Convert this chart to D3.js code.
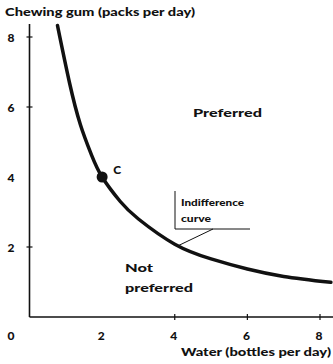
<!DOCTYPE html>
<html>
<head>
<meta charset="utf-8">
<script src="https://cdn.jsdelivr.net/npm/d3@7"></script>
<style>
  html, body { margin: 0; padding: 0; background: #fff; }
  text { font-family: Lato, "Open Sans", sans-serif; font-weight: 900; fill: #111; }
</style>
</head>
<body>
<svg id="chart" width="333" height="364"></svg>
<script>
// Indifference curve: water (bottles/day) vs chewing gum (packs/day)
const curveX = [0.77, 1.1, 1.4, 1.7, 2.0, 2.5, 3.0, 4.0, 5.0, 6.0, 7.0, 8.3];
const curveY = [8.33, 6.7, 5.5, 4.65, 4.0, 3.3, 2.8, 2.08, 1.66, 1.37, 1.16, 0.99];
const pointC = { x: 2, y: 4, label: "C" };
const xTickLabels = [0, 2, 4, 6, 8];
const yTickLabels = [2, 4, 6, 8];
const xTickMarks = [4, 6, 8];
const yTickMarks = [2, 6, 8];

const svg = d3.select("#chart");
const x = d3.scaleLinear().domain([0, 8]).range([29.5, 320]);
const y = d3.scaleLinear().domain([0, 8]).range([317, 37]);

// axes
svg.append("line").attr("x1", x(0)).attr("x2", 333).attr("y1", y(0)).attr("y2", y(0))
  .attr("stroke", "#111").attr("stroke-width", 1.6);
svg.append("line").attr("x1", x(0)).attr("x2", x(0)).attr("y1", y(0)).attr("y2", 24)
  .attr("stroke", "#111").attr("stroke-width", 1.6);

svg.selectAll(".xt").data(xTickMarks).join("line")
  .attr("x1", d => x(d)).attr("x2", d => x(d))
  .attr("y1", y(0) - 3).attr("y2", y(0) + 3)
  .attr("stroke", "#111").attr("stroke-width", 1.2);
svg.selectAll(".yt").data(yTickMarks).join("line")
  .attr("x1", x(0) - 3).attr("x2", x(0) + 3)
  .attr("y1", d => y(d)).attr("y2", d => y(d))
  .attr("stroke", "#111").attr("stroke-width", 1.2);

svg.selectAll(".xl").data(xTickLabels).join("text")
  .attr("x", d => d === 0 ? 11 : x(d) - 1)
  .attr("y", 340).attr("text-anchor", "middle")
  .attr("font-size", 12).text(d => d);
svg.selectAll(".yl").data(yTickLabels).join("text")
  .attr("x", 11).attr("y", d => y(d) + 4.5).attr("text-anchor", "middle")
  .attr("font-size", 12).text(d => d);

// axis titles
svg.append("text").attr("x", 5).attr("y", 16).attr("font-size", 12)
  .attr("textLength", 190).attr("lengthAdjust", "spacingAndGlyphs")
  .text("Chewing gum (packs per day)");
svg.append("text").attr("x", 181).attr("y", 356).attr("font-size", 12)
  .attr("textLength", 150).attr("lengthAdjust", "spacingAndGlyphs")
  .text("Water (bottles per day)");

// region labels
svg.append("text").attr("x", 193).attr("y", 117).attr("font-size", 12)
  .attr("textLength", 69).attr("lengthAdjust", "spacingAndGlyphs").text("Preferred");
svg.append("text").attr("x", 125).attr("y", 272).attr("font-size", 12)
  .attr("textLength", 28).attr("lengthAdjust", "spacingAndGlyphs").text("Not");
svg.append("text").attr("x", 125).attr("y", 292).attr("font-size", 12)
  .attr("textLength", 68).attr("lengthAdjust", "spacingAndGlyphs").text("preferred");

// the curve
const pts = curveX.map((v, i) => [v, curveY[i]]);
svg.append("path")
  .attr("d", d3.line().x(d => x(d[0])).y(d => y(d[1])).curve(d3.curveNatural)(pts))
  .attr("fill", "none").attr("stroke", "#111").attr("stroke-width", 3.5)
  .attr("stroke-linecap", "round");

// point C
svg.append("circle").attr("cx", x(pointC.x)).attr("cy", y(pointC.y)).attr("r", 5.5).attr("fill", "#111");
svg.append("text").attr("x", x(pointC.x) + 11).attr("y", y(pointC.y) - 3)
  .attr("font-size", 12).text(pointC.label);

// callout for the curve
svg.append("path")
  .attr("d", "M175,191 V229 H250")
  .attr("fill", "none").attr("stroke", "#111").attr("stroke-width", 1);
svg.append("line").attr("x1", 213).attr("y1", 229).attr("x2", x(4.1)).attr("y2", y(2.04))
  .attr("stroke", "#111").attr("stroke-width", 1);
svg.append("text").attr("x", 181).attr("y", 206).attr("font-size", 9)
  .attr("textLength", 63).attr("lengthAdjust", "spacingAndGlyphs").text("Indifference");
svg.append("text").attr("x", 181).attr("y", 222).attr("font-size", 9)
  .attr("textLength", 30).attr("lengthAdjust", "spacingAndGlyphs").text("curve");
</script>
</body>
</html>
